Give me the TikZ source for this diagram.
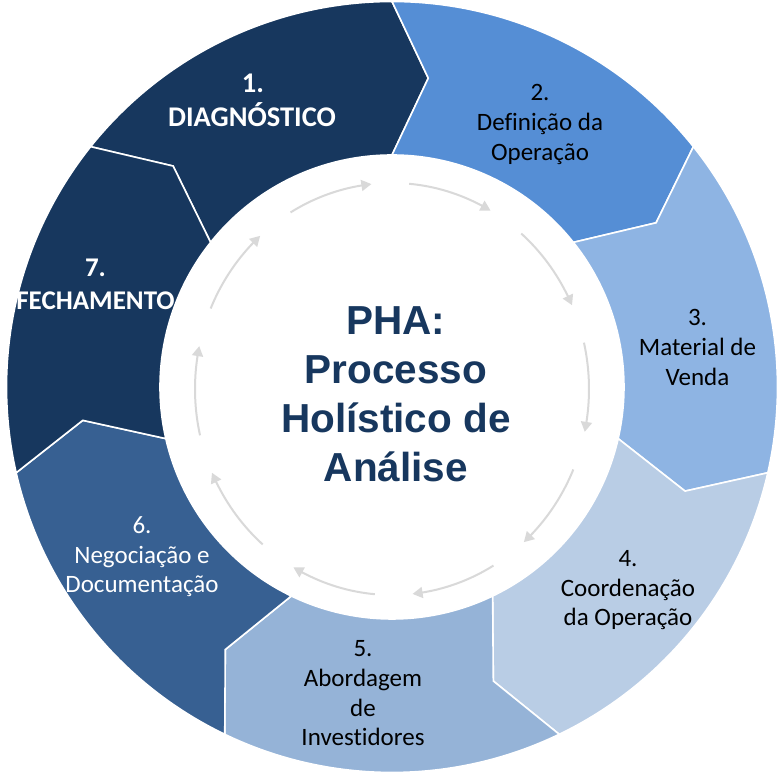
\documentclass[tikz,border=0pt]{standalone}
\usepackage{fontspec}
\setmainfont{Carlito}[Ligatures=NoCommon,RawFeature={-liga;-clig;-dlig}]
\newfontfamily\centerfont{Liberation Sans}
\usetikzlibrary{arrows.meta,bending}
\definecolor{segA}{HTML}{17375E}
\definecolor{segB}{HTML}{558ED5}
\definecolor{segC}{HTML}{8EB4E3}
\definecolor{segD}{HTML}{B9CDE5}
\definecolor{segE}{HTML}{95B3D7}
\definecolor{segF}{HTML}{376092}
\definecolor{segG}{HTML}{17375E}
\definecolor{titleblue}{HTML}{17375E}
\definecolor{arrowgray}{HTML}{D9D9D9}
\tikzset{
  segshape/.style={fill=#1, draw=white, line width=1.6pt, line join=miter},
  cyclearrow/.style={draw=arrowgray, line width=2pt, -{Triangle[length=10pt,width=11pt,bend]}},
  lblreg/.style={anchor=base, inner sep=0pt, font=\fontsize{25}{30}\selectfont, text=#1},
  lblbold/.style={anchor=base, inner sep=0pt, font=\bfseries\fontsize{#1}{33}\selectfont, text=white},
  titletext/.style={anchor=base, inner sep=0pt, font=\centerfont\bfseries\fontsize{40.5}{49}\selectfont, text=titleblue}
}
\begin{document}
\begin{tikzpicture}[x=1pt,y=1pt]
\useasboundingbox (-392,-389) rectangle (388,387);
\fill[white] (-392,-389) rectangle (388,387);
\def\Ro{385.5}
\def\Ri{232}
\def\Rm{311}
\def\dl{6.7}
\foreach \k/\col in {1/segA,2/segB,3/segC,4/segD,5/segE,6/segF,7/segG}{
  \pgfmathsetmacro\ts{90+51.428571*(2-\k)}
  \pgfmathsetmacro\te{\ts-51.428571}
  \pgfmathsetmacro\tsn{\ts-\dl}
  \pgfmathsetmacro\ten{\te-\dl}
  \path[segshape=\col] (\ts:\Ro pt) arc[start angle=\ts, end angle=\te, radius=\Ro pt]
    -- (\ten:\Rm pt) -- (\te:\Ri pt)
    arc[start angle=\te, end angle=\ts, radius=\Ri pt]
    -- (\tsn:\Rm pt) -- cycle;
}
\begin{scope}[yshift=-2pt]
\foreach \j in {0,...,9}{
  \pgfmathsetmacro\as{121-36*\j}
  \pgfmathsetmacro\ae{96-36*\j}
  \draw[cyclearrow] (\as:197pt and 206pt) arc[start angle=\as, end angle=\ae, x radius=197pt, y radius=206pt];
}
\end{scope}
% center title
\node[titletext] (t1) at (4,52) {PHA:};
\node[titletext] (t2) at (4,3) {Processo};
\node[titletext] (t3) at (4,-46) {Holístico de};
\node[titletext] (t4) at (4,-95) {Análise};
% segment 1
\node[lblbold=28.5] (s1a) at (-139,294.5) {1.};
\node[lblbold=28.5] (s1b) at (-140,260.3) {DIAGNÓSTICO};
% segment 2
\node[lblreg=black] (s2a) at (148,286) {2.};
\node[lblreg=black] (s2b) at (148,256) {Definição da};
\node[lblreg=black] (s2c) at (148,226.5) {Operação};
% segment 3
\node[lblreg=black] (s3a) at (305.5,61.5) {3.};
\node[lblreg=black] (s3b) at (305.5,31.5) {Material de};
\node[lblreg=black] (s3c) at (305.5,1.5) {Venda};
% segment 4
\node[lblreg=black] (s4a) at (236,-180) {4.};
\node[lblreg=black] (s4b) at (236,-210) {Coordenação};
\node[lblreg=black] (s4c) at (236,-239) {da Operação};
% segment 5
\node[lblreg=black] (s5a) at (-29,-270) {5.};
\node[lblreg=black] (s5b) at (-29,-300) {Abordagem};
\node[lblreg=black] (s5c) at (-29,-330) {de};
\node[lblreg=black] (s5d) at (-29,-359) {Investidores};
% segment 6
\node[lblreg=white] (s6a) at (-250,-147) {6.};
\node[lblreg=white] (s6b) at (-250,-176.5) {Negociação e};
\node[lblreg=white] (s6c) at (-250,-206) {Documentação};
% segment 7
\node[lblbold=27] (s7a) at (-296.5,110) {7.};
\node[lblbold=27] (s7b) at (-296.5,77) {FECHAMENTO};
\end{tikzpicture}
\end{document}
